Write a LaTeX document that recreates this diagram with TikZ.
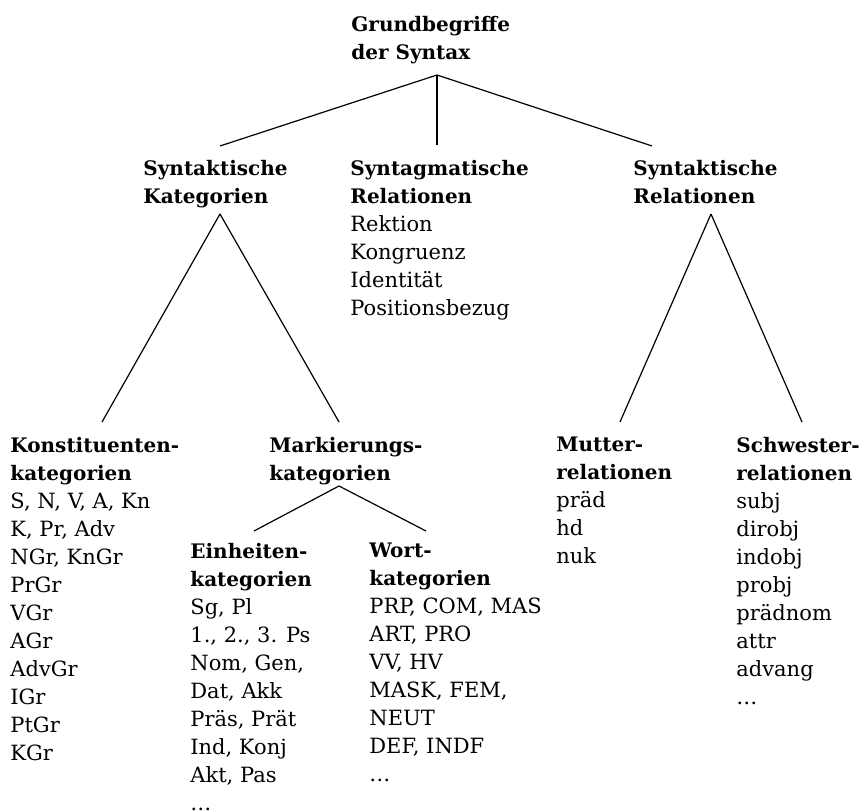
\documentclass[tikz,border=0pt]{standalone}
\usepackage{fontspec}
\setmainfont{DejaVu Serif}
\usetikzlibrary{calc}
\newcommand{\hd}[1]{{\fontsize{10}{14}\selectfont\bfseries #1}}

\begin{document}
\begin{tikzpicture}[x=0.5pt, y=-0.5pt]

  % Styles for the tree
  \tikzset{
    cat/.style={anchor=north west, inner sep=0pt, align=left, font=\fontsize{10.5}{14}\selectfont},
    branch/.style={draw=black, line width=0.6pt}
  }
  \useasboundingbox (0,0) rectangle (861,812);

  % Top level
  \node (root) [cat] at (351,16) {\hd{Grundbegriffe}\\\hd{der Syntax}};

  % Second level
  \node (skat)   [cat] at (143,160) {\hd{Syntaktische}\\\hd{Kategorien}};
  \node (syntag) [cat] at (350,160) {\hd{Syntagmatische}\\\hd{Relationen}\\Rektion\\Kongruenz\\Identität\\Positionsbezug};
  \node (srel)   [cat] at (633,160) {\hd{Syntaktische}\\\hd{Relationen}};

  % Third level
  \node (konst)  [cat] at (10,437) {\hd{Konstituenten-}\\\hd{kategorien}\\S, N, V, A, Kn\\K, Pr, Adv\\NGr, KnGr\\PrGr\\VGr\\AGr\\AdvGr\\IGr\\PtGr\\KGr};
  \node (mark)   [cat] at (269,437) {\hd{Markierungs-}\\\hd{kategorien}};
  \node (mutter) [cat] at (556,437) {\hd{Mutter-}\\\hd{relationen}\\präd\\hd\\nuk};
  \node (schw)   [cat] at (736,437) {\hd{Schwester-}\\\hd{relationen}\\subj\\dirobj\\indobj\\probj\\prädnom\\attr\\advang\\…};

  % Fourth level
  \node (einh)   [cat] at (190,543) {\hd{Einheiten-}\\\hd{kategorien}\\Sg, Pl\\1., 2., 3. Ps\\Nom, Gen,\\Dat, Akk\\Präs, Prät\\Ind, Konj\\Akt, Pas\\…};
  \node (wort)   [cat] at (369,543) {\hd{Wort-}\\\hd{kategorien}\\PRP, COM, MAS\\ART, PRO\\VV, HV\\MASK, FEM,\\NEUT\\DEF, INDF\\…};

  % Branches
  \draw[branch] ($(root.north west)+(86,59)$) -- ($(skat.north west)+(77,-14)$);
  \draw[branch] ($(root.north west)+(86,59)$) -- ($(syntag.north west)+(87,-15)$);
  \draw[branch] ($(root.north west)+(86,59)$) -- ($(srel.north west)+(19,-14)$);
  \draw[branch] ($(skat.north west)+(77,54)$) -- ($(konst.north west)+(92,-15)$);
  \draw[branch] ($(skat.north west)+(77,54)$) -- ($(mark.north west)+(70,-15)$);
  \draw[branch] ($(srel.north west)+(78,54)$) -- ($(mutter.north west)+(64,-15)$);
  \draw[branch] ($(srel.north west)+(78,54)$) -- ($(schw.north west)+(66,-15)$);
  \draw[branch] ($(mark.north west)+(70,49)$) -- ($(einh.north west)+(64,-12)$);
  \draw[branch] ($(mark.north west)+(70,49)$) -- ($(wort.north west)+(57,-12)$);

\end{tikzpicture}
\end{document}
